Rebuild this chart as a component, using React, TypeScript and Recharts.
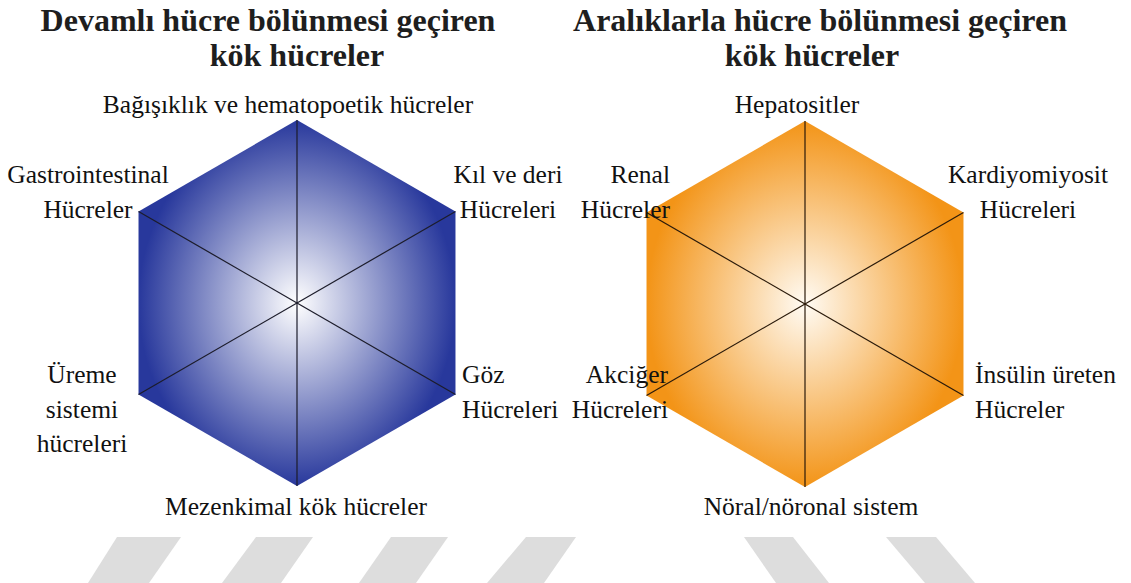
import React from 'react';
import { RadarChart, Radar, PolarAngleAxis, PolarRadiusAxis } from 'recharts';

// ---- data ----
const leftCategories = [
  'Bağışıklık ve hematopoetik hücreler',
  'Kıl ve deri\nHücreleri',
  'Göz\nHücreleri',
  'Mezenkimal kök hücreler',
  'Üreme\nsistemi\nhücreleri',
  'Gastrointestinal\nHücreler',
];
const leftValues = [1, 1, 1, 1, 1, 1];
const leftTitle = ['Devamlı hücre bölünmesi geçiren', 'kök hücreler'];

const rightCategories = [
  'Hepatositler',
  'Kardiyomiyosit\nHücreleri',
  'İnsülin üreten\nHücreler',
  'Nöral/nöronal sistem',
  'Akciğer\nHücreleri',
  'Renal\nHücreler',
];
const rightValues = [1, 1, 1, 1, 1, 1];
const rightTitle = ['Aralıklarla hücre bölünmesi geçiren', 'kök hücreler'];

const leftData = leftCategories.map((c, i) => ({ category: c, value: leftValues[i] }));
const rightData = rightCategories.map((c, i) => ({ category: c, value: rightValues[i] }));

// ---- layout ----
const W = 1131;
const H = 583;
const R = 183;
const LEFT_W = 565;
const LCX = 297;
const LCY = 303;
const RCX = 805 - LEFT_W;
const RCY = 304;
const LABEL_FONT = 25.5;
const LINE = 34.5;
const SERIF = 'Liberation Serif';

type LabelLayout = { dx: number; dy: number; anchor: 'start' | 'middle' | 'end' };

const leftLabelLayout: LabelLayout[] = [
  { dx: -9, dy: -190, anchor: 'middle' },
  { dx: 211, dy: -120, anchor: 'middle' },
  { dx: 165, dy: 80, anchor: 'start' },
  { dx: -1, dy: 212, anchor: 'middle' },
  { dx: -215, dy: 80, anchor: 'middle' },
  { dx: -209, dy: -120, anchor: 'middle' },
];
const rightLabelLayout: LabelLayout[] = [
  { dx: -8, dy: -191, anchor: 'middle' },
  { dx: 223, dy: -121, anchor: 'middle' },
  { dx: 170, dy: 79, anchor: 'start' },
  { dx: 6, dy: 211, anchor: 'middle' },
  { dx: -137, dy: 79, anchor: 'end' },
  { dx: -135, dy: -121, anchor: 'end' },
];

const makeTick = (layout: LabelLayout[], cx: number, cy: number) => (props: any) => {
  const { index, payload } = props;
  const L = layout[index];
  const lines = String(payload.value).split('\n');
  const x = cx + L.dx;
  return (
    <text
      textAnchor={L.anchor}
      fontFamily={SERIF}
      style={{ fontFamily: SERIF }}
      fontSize={LABEL_FONT}
      fill="#111111"
    >
      {lines.map((ln, i) => (
        <tspan key={i} x={x} y={cy + L.dy + i * LINE}>
          {ln}
        </tspan>
      ))}
    </text>
  );
};

const stripes = [
  '117,537 181,537 149,583 88,583',
  '256,537 313,537 281,583 222,583',
  '391,537 448,537 416,583 359,583',
  '526,537 576,537 544,583 487,583',
  '744,537 793,537 829,583 776,583',
  '886,537 936,537 975,583 925,583',
];

function HexChart(props: {
  data: { category: string; value: number }[];
  cx: number;
  cy: number;
  width: number;
  fill: string;
  layout: LabelLayout[];
  spoke: string;
}) {
  const { data, cx, cy, width, fill, layout, spoke } = props;
  return (
    <RadarChart
      width={width}
      height={H}
      data={data}
      cx={cx}
      cy={cy}
      outerRadius={R}
      margin={{ top: 0, right: 0, bottom: 0, left: 0 }}
      style={{ overflow: 'visible' }}
    >
      <PolarRadiusAxis domain={[0, 1]} tick={false} axisLine={false} />
      <Radar
        dataKey="value"
        stroke="none"
        fill={fill}
        fillOpacity={1}
        dot={false}
        isAnimationActive={false}
      />
      <PolarAngleAxis
        dataKey="category"
        orientation="inner"
        tickSize={R}
        tickLine={{ stroke: spoke, strokeWidth: 1.2 }}
        axisLine={false}
        tick={makeTick(layout, cx, cy)}
      />
    </RadarChart>
  );
}

export default function App() {
  return (
    <div
      style={{
        position: 'fixed',
        left: 0,
        top: 0,
        width: W,
        height: H,
        background: '#ffffff',
        overflow: 'hidden',
      }}
    >
      <svg width={0} height={0} style={{ position: 'absolute' }}>
        <defs>
          <radialGradient id="blueGrad" cx="50%" cy="50%" r="50%">
            <stop offset="0%" stopColor="#ffffff" />
            <stop offset="100%" stopColor="#28389c" />
          </radialGradient>
          <radialGradient id="orangeGrad" cx="50%" cy="50%" r="50%">
            <stop offset="0%" stopColor="#fffbf4" />
            <stop offset="100%" stopColor="#f39417" />
          </radialGradient>
        </defs>
      </svg>
      <svg width={W} height={H} style={{ position: 'absolute', left: 0, top: 0 }}>
        {stripes.map((p, i) => (
          <polygon key={i} points={p} fill="#dddddd" />
        ))}
        <g
          fontFamily={SERIF}
          style={{ fontFamily: SERIF }}
          fontWeight="bold"
          fontSize={32}
          fill="#1e1e1e"
          textAnchor="middle"
        >
          <text x={268} y={31}>{leftTitle[0]}</text>
          <text x={297} y={66}>{leftTitle[1]}</text>
          <text x={820} y={31}>{rightTitle[0]}</text>
          <text x={812} y={66}>{rightTitle[1]}</text>
        </g>
      </svg>
      <div style={{ position: 'absolute', left: 0, top: 0 }}>
        <HexChart
          data={leftData}
          cx={LCX}
          cy={LCY}
          width={LEFT_W}
          fill="url(#blueGrad)"
          layout={leftLabelLayout}
          spoke="#1c1c2a"
        />
      </div>
      <div style={{ position: 'absolute', left: LEFT_W, top: 0 }}>
        <HexChart
          data={rightData}
          cx={RCX}
          cy={RCY}
          width={W - LEFT_W}
          fill="url(#orangeGrad)"
          layout={rightLabelLayout}
          spoke="#2a1a0a"
        />
      </div>
    </div>
  );
}
